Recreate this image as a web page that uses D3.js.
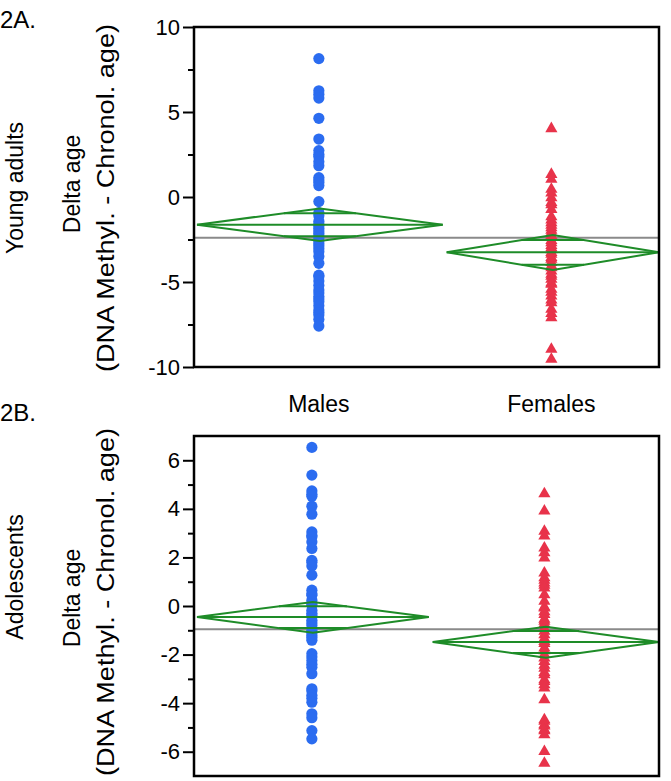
<!DOCTYPE html>
<html><head><meta charset="utf-8">
<script src="https://cdn.jsdelivr.net/npm/d3@7"></script>
<style>body{margin:0;background:#fff}svg{display:block}text{font-family:"Liberation Sans",Arial,sans-serif;fill:#000}</style>
</head><body><svg id="c" width="671" height="781"></svg>
<script>
const categories = ["Males", "Females"];
// Panel 2A: Young adults
const youngMales = [8.14,6.25,6.05,5.82,4.63,3.41,2.73,2.5,2.37,2.08,1.84,1.14,1.0,0.85,0.67,-0.27,-0.92,-1.1,-1.43,-1.6,-1.69,-1.85,-2.0,-2.15,-2.29,-2.45,-2.59,-2.75,-2.88,-3.05,-3.22,-3.5,-3.9,-4.6,-4.69,-4.94,-5.2,-5.47,-5.65,-5.86,-6.0,-6.16,-6.4,-6.65,-6.8,-6.94,-7.2,-7.59];
const youngFemales = [4.08,1.39,1.1,0.51,0.3,0.02,-0.27,-0.4,-0.67,-1.1,-1.3,-1.45,-1.6,-1.75,-1.9,-2.04,-2.2,-2.33,-2.5,-2.63,-2.8,-2.92,-3.05,-3.2,-3.31,-3.5,-3.6,-3.8,-3.99,-4.1,-4.3,-4.49,-4.6,-4.78,-5.0,-5.08,-5.37,-5.55,-5.76,-6.0,-6.16,-6.55,-6.8,-7.04,-8.9,-9.49];
const youngMeans = [-1.63, -3.25];
const youngCILow = [-2.59, -4.29];
const youngCIHigh = [-0.67, -2.24];
const youngGrandMean = -2.39;
// Panel 2B: Adolescents
const adolMales = [6.53,5.39,4.74,4.6,4.52,4.11,3.78,3.05,2.9,2.85,2.64,2.37,1.88,1.8,1.65,1.27,0.65,0.5,0.44,0.24,0.1,0.03,-0.18,-0.3,-0.38,-0.59,-0.7,-0.8,-1.0,-1.1,-1.21,-1.3,-1.41,-1.96,-2.1,-2.24,-2.4,-2.52,-2.79,-3.41,-3.5,-3.68,-3.8,-3.96,-4.44,-4.6,-5.13,-5.47];
const adolFemales = [4.66,3.95,3.12,2.92,2.43,2.23,2.02,1.4,1.2,1.1,0.99,0.9,0.78,0.5,0.24,0.0,-0.04,-0.2,-0.31,-0.5,-0.59,-0.7,-0.87,-1.0,-1.14,-1.3,-1.42,-1.5,-1.69,-1.8,-1.96,-2.1,-2.24,-2.4,-2.52,-2.7,-2.79,-3.0,-3.07,-3.2,-3.34,-3.82,-4.64,-4.7,-4.85,-4.9,-5.05,-5.1,-5.26,-5.95,-6.43];
const adolMeans = [-0.45, -1.48];
const adolCILow = [-1.10, -2.13];
const adolCIHigh = [0.165, -0.85];
const adolGrandMean = -0.96;
// tick labels
const youngTicks = [10, 5, 0, -5, -10];
const youngMinorTicks = [7.5, 2.5, -2.5, -7.5];
const adolTicks = [6, 4, 2, 0, -2, -4, -6];
const adolMinorTicks = [5, 3, 1, -1, -3, -5];

const svg = d3.select("#c");
const X0 = 194, X1 = 659;
const BLUE = "#2b6cf0", RED = "#e8334a", GREEN = "#1e8c28", GRAY = "#8a8a8a";
const FS = "23px";

function panel(cfg) {
  const g = svg.append("g");
  const y = d3.scaleLinear().domain(cfg.domain).range([cfg.bottom, cfg.top]);
  const xf = d3.scaleLinear().domain([0, 1]).range([X0, X1]);
  const bounds = [[0, cfg.split], [cfg.split, 1]];
  const centers = bounds.map(b => xf((b[0] + b[1]) / 2));

  g.append("line").attr("x1", X0).attr("x2", X1)
    .attr("y1", y(cfg.grand)).attr("y2", y(cfg.grand))
    .attr("stroke", GRAY).attr("stroke-width", 2);

  g.selectAll("circle.m").data(cfg.males).join("circle")
    .attr("cx", centers[0]).attr("cy", d => y(d)).attr("r", 5.6).attr("fill", BLUE);
  const tri = d3.symbol().type(d3.symbolTriangle).size(64);
  g.selectAll("path.f").data(cfg.females).join("path")
    .attr("d", tri).attr("transform", d => `translate(${centers[1]},${y(d) + 1})`).attr("fill", RED);

  [0, 1].forEach(i => {
    const xl = xf(bounds[i][0]) + 3, xr = xf(bounds[i][1]) - (i === 1 ? 0 : 1), xc = (xl + xr) / 2;
    const m = cfg.means[i], lo = cfg.lo[i], hi = cfg.hi[i];
    const pts = [[xl, y(m)], [xc, y(hi)], [xr, y(m)], [xc, y(lo)]];
    g.append("path").attr("d", d3.line()(pts) + "Z")
      .attr("fill", "none").attr("stroke", GREEN).attr("stroke-width", 2);
    g.append("line").attr("x1", xl).attr("x2", xr).attr("y1", y(m)).attr("y2", y(m))
      .attr("stroke", GREEN).attr("stroke-width", 2);
    // overlap marks: between diamond edges at mean ± half-CI/√2
    const halfUp = hi - m, halfDn = m - lo;
    [[m + halfUp / Math.SQRT2, halfUp], [m - halfDn / Math.SQRT2, halfDn]].forEach(([v, h]) => {
      const t = Math.abs(v - m) / h;
      g.append("line").attr("x1", xl + (xc - xl) * t).attr("x2", xr - (xr - xc) * t)
        .attr("y1", y(v)).attr("y2", y(v)).attr("stroke", GREEN).attr("stroke-width", 2);
    });
  });

  g.append("rect").attr("x", X0).attr("y", cfg.top).attr("width", X1 - X0).attr("height", cfg.bottom - cfg.top)
    .attr("fill", "none").attr("stroke", "#000").attr("stroke-width", 2.5);

  const ax = d3.axisLeft(y).tickValues(cfg.ticks).tickSize(11).tickPadding(3).tickFormat(d => String(d));
  const axg = g.append("g").attr("transform", `translate(${X0},0)`).call(ax);
  axg.select(".domain").remove();
  axg.selectAll("line").attr("stroke", "#000").attr("stroke-width", 2);
  axg.selectAll("text").style("font-size", "22px").style("font-family", '"Liberation Sans",Arial,sans-serif').attr("fill", "#000");
  const axm = d3.axisLeft(y).tickValues(cfg.minor).tickSize(6).tickFormat("");
  const amg = g.append("g").attr("transform", `translate(${X0},0)`).call(axm);
  amg.select(".domain").remove();
  amg.selectAll("line").attr("stroke", "#000").attr("stroke-width", 2);

  g.append("text").attr("x", 0).attr("y", cfg.tagY).style("font-size", "24px").text(cfg.tag);
  const mid = (cfg.top + cfg.bottom) / 2;
  g.append("text").attr("transform", `translate(23,${mid + cfg.groupDy}) rotate(-90)`).attr("text-anchor", "middle")
    .style("font-size", FS).text(cfg.group);
  g.append("text").attr("transform", `translate(80,${mid + cfg.deltaDy}) rotate(-90)`).attr("text-anchor", "middle")
    .style("font-size", FS).text("Delta age");
  g.append("text").attr("transform", `translate(114,${mid + cfg.parenDy}) rotate(-90)`).attr("text-anchor", "middle")
    .style("font-size", FS).attr("textLength", 348).attr("lengthAdjust", "spacingAndGlyphs").text("(DNA Methyl. - Chronol. age)");
  if (cfg.showCats) {
    categories.forEach((c, i) => {
      g.append("text").attr("x", centers[i]).attr("y", cfg.bottom + 45).attr("text-anchor", "middle")
        .style("font-size", FS).text(c);
    });
  }
}

panel({domain: [-10, 10], top: 27, bottom: 367, split: 0.537, males: youngMales, females: youngFemales,
  means: youngMeans, lo: youngCILow, hi: youngCIHigh, grand: youngGrandMean, ticks: youngTicks, minor: youngMinorTicks,
  tag: "2A.", tagY: 28, group: "Young adults", groupDy: -9, deltaDy: -13, parenDy: 1, showCats: true});
panel({domain: [-7, 7], top: 436, bottom: 776, split: 0.507, males: adolMales, females: adolFemales,
  means: adolMeans, lo: adolCILow, hi: adolCIHigh, grand: adolGrandMean, ticks: adolTicks, minor: adolMinorTicks,
  tag: "2B.", tagY: 421, group: "Adolescents", groupDy: -29, deltaDy: -8, parenDy: -4, showCats: false});
</script></body></html>
